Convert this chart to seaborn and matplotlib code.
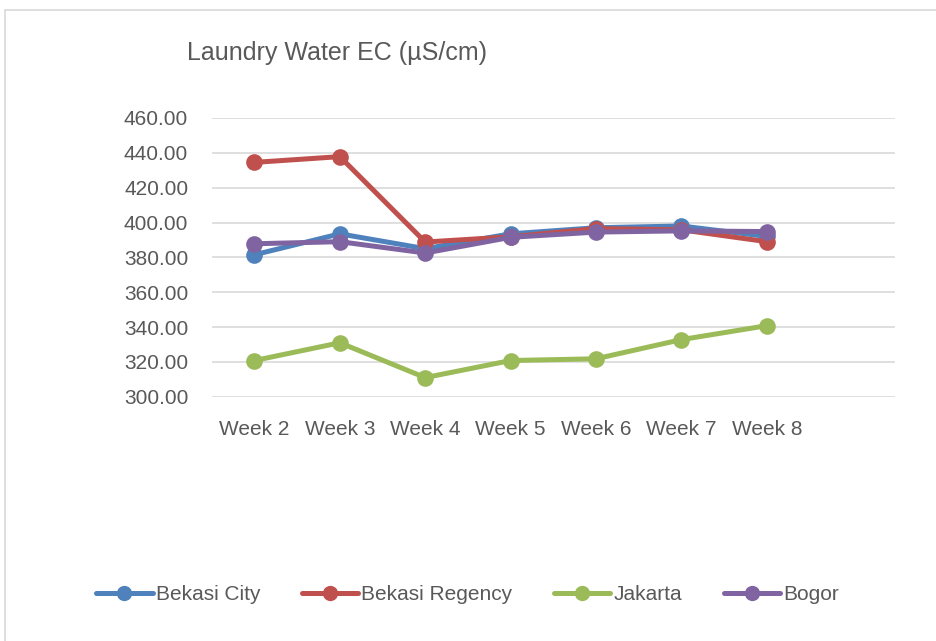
import pandas as pd
import numpy as np
import matplotlib
matplotlib.use("Agg")
import matplotlib.pyplot as plt
import seaborn as sns

# values
weeks = ["Week 2", "Week 3", "Week 4", "Week 5", "Week 6", "Week 7", "Week 8"]
bekasi_city = [381.5, 393.5, 385.0, 393.5, 397.0, 398.0, 392.0]
bekasi_regency = [434.5, 437.8, 388.8, 391.8, 396.5, 395.8, 389.0]
jakarta = [320.8, 331.0, 311.0, 320.8, 321.8, 332.8, 340.8]
bogor = [387.8, 389.0, 382.5, 391.5, 394.5, 395.2, 394.8]

sites = ["Bekasi City", "Bekasi Regency", "Jakarta", "Bogor"]
colors = ["#4F81BD", "#C0504D", "#9BBB59", "#8064A2"]

df = pd.DataFrame({
    "Week": weeks * 4,
    "EC": bekasi_city + bekasi_regency + jakarta + bogor,
    "Site": np.repeat(sites, len(weeks)),
})

sns.set_style("white")
plt.rcParams['font.family'] = ['Liberation Sans', 'DejaVu Sans']
text_col = "#595959"

fig = plt.figure(figsize=(9.37, 6.41), dpi=100)
ax = fig.add_axes([0.226, 0.381, 0.729, 0.435])

sns.lineplot(data=df, x="Week", y="EC", hue="Site", palette=colors,
             marker="o", markersize=12, markeredgewidth=0, linewidth=3.6,
             sort=False, ax=ax, legend=False)

ax.set_xlim(-0.5, 7.5)
ax.set_ylim(300, 460)
ax.set_yticks(np.arange(300, 461, 20))
ax.set_yticklabels([f"{v:.2f}" for v in np.arange(300, 461, 20)])
ax.grid(axis="y", color="#D9D9D9", linewidth=1.2)
ax.grid(axis="x", visible=False)
for s in ax.spines.values():
    s.set_visible(False)
ax.tick_params(axis="both", length=0, labelsize=15, colors=text_col)
ax.tick_params(axis="y", pad=17)
ax.tick_params(axis="x", pad=17)
ax.set_xlabel("")
ax.set_ylabel("")

fig.text(0.2, 0.917, "Laundry Water EC (\u00b5S/cm)", fontsize=18, color=text_col,
         ha="left", va="center")

handles = [plt.Line2D([], [], color=c, marker="o", markersize=11, linewidth=3.6,
                      markeredgewidth=0) for c in colors]
fig.legend(handles, sites, loc="center", bbox_to_anchor=(0.499, 0.072), ncol=4,
           frameon=False, fontsize=15, labelcolor=text_col, handlelength=2.7,
           handletextpad=0.15, columnspacing=2.0)

# chart area border (only top and left edges visible in the crop)
fig.patches.append(plt.Rectangle((5 / 937, -0.1), 1.0, 1 - 10 / 641 + 0.1,
                                 transform=fig.transFigure, fill=False,
                                 edgecolor="#D9D9D9", linewidth=1.2))

fig.savefig("out.png", dpi=100)
